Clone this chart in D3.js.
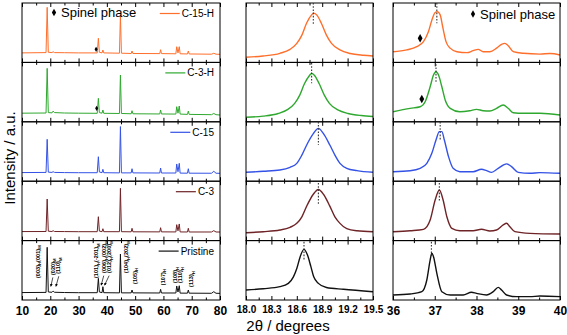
<!DOCTYPE html>
<html>
<head>
<meta charset="utf-8">
<script src="https://cdn.jsdelivr.net/npm/d3@7"></script>
<style>
  body { margin: 0; background: #fff; }
  svg { display: block; font-family: "Liberation Sans", Arial, sans-serif; }
</style>
</head>
<body>
<svg id="chart" width="567" height="335"></svg>
<script>
// sample names, top to bottom
const samples = ["C-15-H", "C-3-H", "C-15", "C-3", "Pristine"];

// tick labels of the three columns
const wideTicks = [10, 20, 30, 40, 50, 60, 70, 80];
const zoomATicks = [18.0, 18.3, 18.6, 18.9, 19.2, 19.5];
const zoomBTicks = [36, 37, 38, 39, 40];

// full patterns, 2theta 10-80 : [2theta, intensity]
const wideC15H = [[10,16],[18.5,16.5],[18.9,92.7],[19.3,17],[20.6,16.5],[21.0,18],[21.5,16.5],[25,16.3],[30,16],[36.6,16],[37.0,40.6],[37.35,17],[38.3,16],[38.6,20.9],[38.9,16],[44.45,15.5],[44.8,79.8],[45.15,15.5],[48.6,15],[48.9,19.2],[49.2,15],[58.7,14.8],[59.0,21.4],[59.3,14.8],[64.4,14.5],[64.7,26.4],[65.15,16],[65.6,26.4],[65.9,14.5],[68.5,14.2],[68.8,19.2],[69.1,14.2],[77,13.8],[77.8,15.3],[78.6,13.8],[80,13.6]];
const wideC3H = [[10,14.5],[18.5,14.8],[18.9,90],[19.3,15.5],[20.6,15],[21.0,18],[21.5,15.5],[25,14.8],[30,14.5],[36.6,14.3],[37.0,39.5],[37.35,15.5],[38.3,14.5],[38.6,19.9],[38.9,14.3],[44.45,14],[44.8,78.8],[45.15,14],[48.6,13.5],[48.9,18.7],[49.2,13.5],[58.7,13.2],[59.0,19.9],[59.3,13.2],[64.4,13],[64.7,25.4],[65.15,14.5],[65.6,26.6],[65.9,13],[68.5,12.5],[68.8,18],[69.1,12.5],[77,12],[77.8,14],[78.6,12],[80,11.4]];
const wideC15 = [[10,14.5],[18.5,14.8],[18.9,70.5],[19.3,15.2],[20.6,14.8],[21.0,16],[21.5,14.8],[25,14.5],[30,14.3],[36.6,14.3],[37.0,41.2],[37.35,15.5],[38.3,14.3],[38.6,20],[38.9,14.3],[44.45,14],[44.8,92],[45.15,14],[48.6,14],[48.9,21],[49.2,14],[58.7,13.8],[59.0,22.2],[59.3,13.8],[64.4,13.8],[64.7,29],[65.15,16],[65.6,30.1],[65.9,13.6],[68.5,13.5],[68.8,21],[69.1,13.5],[77,13.4],[77.8,16.7],[78.6,13.4],[80,13.3]];
const wideC3 = [[10,15.2],[18.5,15.3],[18.9,70],[19.3,15.8],[20.6,15.3],[21.0,16.7],[21.5,15.3],[25,15.2],[30,15],[36.6,15],[37.0,40.2],[37.35,16],[38.3,15],[38.6,20],[38.9,15],[44.45,15],[44.8,88],[45.15,15],[48.6,14.8],[48.9,20.7],[49.2,14.8],[58.7,14.7],[59.0,21.7],[59.3,14.7],[64.4,14.6],[64.7,26.8],[65.15,16.5],[65.6,28],[65.9,14.6],[68.5,14.5],[68.8,20.7],[69.1,14.5],[77,14.5],[77.8,16.7],[78.6,14.5],[80,14.4]];
const widePristine = [[10,12.5],[18.5,12.8],[18.9,88.7],[19.3,13.5],[20.6,13],[21.0,15],[21.5,13],[25,12.6],[30,12.3],[36.6,12.3],[37.0,36.5],[37.35,13.5],[38.3,12.3],[38.6,22.4],[38.9,12.3],[44.45,12],[44.8,77.4],[45.15,12],[48.6,12],[48.9,16.8],[49.2,12],[58.7,11.8],[59.0,18],[59.3,11.8],[64.4,11.8],[64.7,23.6],[65.15,13.5],[65.6,24],[65.9,11.6],[68.5,11.5],[68.8,16.8],[69.1,11.5],[77,11.3],[77.8,14],[78.6,11.3],[80,11.2]];

// (003) region, 2theta 18.0-19.5
const zoomAC15H = [[18.0,8.6],[18.2,10.8],[18.4,15.3],[18.52,22],[18.6,32],[18.66,46],[18.715,66],[18.775,80],[18.8,83],[18.835,80],[18.89,66],[18.95,46],[19.01,32],[19.11,21],[19.23,15],[19.385,12],[19.5,10.8]];
const zoomAC3H = [[18.0,7.6],[18.2,9.5],[18.38,14],[18.495,21],[18.575,31],[18.635,45],[18.69,64],[18.75,78],[18.775,81.6],[18.81,78],[18.865,64],[18.925,45],[18.985,31],[19.085,20],[19.205,14],[19.36,10.5],[19.5,9]];
const zoomAC15 = [[18.0,15],[18.205,16.7],[18.4,18.9],[18.52,23.4],[18.6,30],[18.66,44],[18.717,61],[18.795,80],[18.855,89],[18.915,80],[18.99,61],[19.05,44],[19.11,30],[19.19,21.7],[19.31,17.7],[19.5,15]];
const zoomAC3 = [[18.0,13.3],[18.205,15],[18.4,17.8],[18.52,22.4],[18.6,29],[18.66,40],[18.717,58],[18.795,78],[18.855,86],[18.915,78],[18.99,58],[19.05,40],[19.11,29],[19.19,20],[19.31,16.5],[19.5,15]];
const zoomAPristine = [[18.0,16.8],[18.205,19],[18.4,22.4],[18.5,28],[18.56,39],[18.6,53],[18.64,73],[18.685,85.3],[18.725,76],[18.765,57],[18.8,39],[18.855,28],[18.95,21],[19.15,18],[19.5,14]];

// (101)/(006)/(012) region, 2theta 36-40
const zoomBC15H = [[36.0,18],[36.33,21],[36.57,26.5],[36.73,35],[36.85,52],[36.93,71],[37.01,84],[37.06,85.4],[37.13,80],[37.19,60],[37.27,35],[37.37,24],[37.53,18],[37.77,16.4],[37.92,19.7],[38.04,22],[38.16,18],[38.32,18],[38.48,24],[38.6,30.4],[38.68,32],[38.76,28],[38.88,18],[39.12,15.3],[39.52,14],[39.76,15],[40.0,12.5]];
const zoomBC3H = [[36.0,17],[36.41,22.7],[36.65,25.4],[36.77,33.8],[36.89,59],[36.97,78.8],[37.03,84.3],[37.09,78.8],[37.17,59],[37.25,36.7],[37.37,22.7],[37.6,17],[37.84,18.7],[38.0,21],[38.16,18.7],[38.32,18.2],[38.48,22.7],[38.64,28.3],[38.76,22.7],[38.88,15.3],[39.12,14.3],[39.52,14.3],[40.0,11.4]];
const zoomBC15 = [[36.0,16],[36.41,17.7],[36.65,21.7],[36.81,30.1],[36.93,47],[37.03,69.4],[37.11,83.4],[37.17,83.4],[37.23,69.4],[37.33,41.3],[37.44,21.7],[37.6,16],[37.92,16],[38.12,20],[38.24,17.7],[38.36,14.9],[38.52,21.7],[38.72,29.2],[38.84,24.5],[39.0,14.9],[39.28,13.3],[39.52,14.5],[40.0,13.3]];
const zoomBC3 = [[36.0,15],[36.41,16.7],[36.73,19],[36.89,34.7],[37.01,68.4],[37.11,85.2],[37.2,68.4],[37.29,40.2],[37.41,20.7],[37.6,16.7],[37.92,16.7],[38.12,19],[38.32,16.2],[38.48,17.8],[38.64,26.3],[38.72,29.1],[38.8,23.4],[38.92,15],[39.28,12.2],[40.0,11.1]];
const zoomBPristine = [[36.0,8.4],[36.41,10.1],[36.69,14],[36.81,33.7],[36.89,67.3],[36.93,78.6],[36.97,72.9],[37.05,44.9],[37.17,14],[37.37,8.4],[37.68,8.4],[37.88,13],[38.0,11.2],[38.24,8.4],[38.4,14],[38.52,21.3],[38.6,16.8],[38.72,8.4],[38.96,5.6],[39.28,5.6],[39.52,6.7],[40.0,5.6]];

// peak centres marked with dotted lines
const zoomAPeaks = [18.795, 18.775, 18.855, 18.855, 18.685];
const zoomBPeaks = [37.05, 37.03, 37.13, 37.11, 36.92];
const dashTopA = [100, 99, 100, 97, 98], dashLowA = [64, 65, 61, 60, 67];
const dashTopB = [100, 97, 100, 97, 98], dashLowB = [66, 67, 69, 65, 74];

// spinel markers: [row, 2theta, intensity]
const spinelWide = [[0, 36.2, 22], [1, 36.4, 22.7]];
const spinelZoomB = [[0, 36.65, 40.6], [1, 36.69, 38.4]];

// reflection labels on the pristine pattern
const hklLabels = [
  {x: 15.5, y: 37, parts: ["(003)", "H", "(001)", "M"]},
  {x: 20.8, y: 42, parts: ["(020)", "M"]},
  {x: 22.9, y: 44, parts: ["(110)", "M"]},
  {x: 36.3, y: 37, parts: ["(101)", "H", "(-201)", "M"]},
  {x: 39.0, y: 45.5, parts: ["(006)", "H", "(002)", "M"]},
  {x: 40.9, y: 45.5, parts: ["(012)", "H", "(200)", "M"]},
  {x: 46.8, y: 45.5, parts: ["(104)", "H", "(202)", "M"]},
  {x: 49.9, y: 27, parts: ["(105)", "H"]},
  {x: 59.8, y: 25, parts: ["(107)", "H"]},
  {x: 64.1, y: 28.6, parts: ["(108)", "H"]},
  {x: 66.0, y: 28.6, parts: ["(110)", "H"]},
  {x: 69.9, y: 22, parts: ["(113)", "H"]}
];
const hklArrows = [[20.9, 38, 20.2, 23], [23.0, 40, 22.0, 23], [38.9, 41, 38.0, 25], [40.8, 41, 39.2, 25]];

const colors = ["#ff6f2c", "#2fa82f", "#3452e6", "#6e2326", "#111111"];

const svg = d3.select("#chart");
const defs = svg.append("defs");
defs.append("marker")
    .attr("id", "arrow")
    .attr("viewBox", "0 0 6 6")
    .attr("refX", 5).attr("refY", 3)
    .attr("markerWidth", 4).attr("markerHeight", 4)
    .attr("orient", "auto")
  .append("path")
    .attr("d", "M0,0L6,3L0,6Z")
    .attr("fill", "#000");

const rows = d3.scaleBand().domain(samples).range([3, 300]);

const cols = [
  {x0: 22, x1: 220, domain: [10, 80], ticks: wideTicks, fmt: d3.format("d"), fs: 12,
   series: [wideC15H, wideC3H, wideC15, wideC3, widePristine], curve: d3.curveLinear, lw: 1},
  {x0: 246, x1: 373, domain: [18, 19.5], ticks: zoomATicks, fmt: d3.format(".1f"), fs: 10,
   series: [zoomAC15H, zoomAC3H, zoomAC15, zoomAC3, zoomAPristine], curve: d3.curveMonotoneX, lw: 1.4},
  {x0: 393, x1: 560, domain: [36, 40], ticks: zoomBTicks, fmt: d3.format("d"), fs: 12,
   series: [zoomBC15H, zoomBC3H, zoomBC15, zoomBC3, zoomBPristine], curve: d3.curveMonotoneX, lw: 1.4}
];

function yScaleFor(name) {
  const top = rows(name);
  return d3.scaleLinear().domain([0, 100]).range([top + rows.bandwidth(), top]);
}

function diamond(g, px, py, size) {
  g.append("path")
    .attr("transform", `translate(${px},${py})`)
    .attr("d", d3.symbol(d3.symbolDiamond, size)())
    .attr("fill", "#000");
}

cols.forEach((c, ci) => {
  const x = d3.scaleLinear().domain(c.domain).range([c.x0, c.x1]);
  c.x = x;
  const minor = d3.pairs(c.ticks).map(p => (p[0] + p[1]) / 2);

  samples.forEach((name, i) => {
    const y = yScaleFor(name);
    const top = rows(name), h = rows.bandwidth();
    const g = svg.append("g");

    const clipId = `clip-${ci}-${i}`;
    defs.append("clipPath").attr("id", clipId)
      .append("rect").attr("x", c.x0).attr("y", top).attr("width", c.x1 - c.x0).attr("height", h);

    g.append("path")
      .datum(c.series[i])
      .attr("clip-path", `url(#${clipId})`)
      .attr("fill", "none")
      .attr("stroke", colors[i])
      .attr("stroke-width", c.lw)
      .attr("stroke-linejoin", "round")
      .attr("d", d3.line().x(d => x(d[0])).y(d => y(d[1])).curve(c.curve));

    // inward ticks, top and bottom
    const last = i === samples.length - 1;
    const bottom = g.append("g")
      .attr("transform", `translate(0,${top + h})`)
      .call(d3.axisBottom(x).tickValues(c.ticks).tickSize(-4).tickPadding(6)
        .tickFormat(last ? c.fmt : ""));
    bottom.append("g").call(d3.axisBottom(x).tickValues(minor).tickSize(-2.5).tickFormat(""));
    const topAx = g.append("g")
      .attr("transform", `translate(0,${top})`)
      .call(d3.axisTop(x).tickValues(c.ticks).tickSize(-4).tickFormat(""));
    topAx.append("g").call(d3.axisTop(x).tickValues(minor).tickSize(-2.5).tickFormat(""));
    g.selectAll(".domain").remove();
    g.selectAll(".tick line").attr("stroke", "#000");
    bottom.selectAll("text")
      .attr("font-family", "Liberation Sans, Arial, sans-serif")
      .attr("font-weight", "bold")
      .attr("font-size", c.fs)
      .attr("fill", "#000");

    g.append("rect")
      .attr("x", c.x0).attr("y", top)
      .attr("width", c.x1 - c.x0).attr("height", h)
      .attr("fill", "none").attr("stroke", "#000").attr("stroke-width", 1);
  });
});

// dotted peak-centre lines
[[cols[1], zoomAPeaks, dashTopA, dashLowA], [cols[2], zoomBPeaks, dashTopB, dashLowB]].forEach(([c, peaks, hi, lo]) => {
  samples.forEach((name, i) => {
    const y = yScaleFor(name);
    svg.append("line")
      .attr("x1", c.x(peaks[i])).attr("x2", c.x(peaks[i]))
      .attr("y1", y(hi[i])).attr("y2", y(lo[i]))
      .attr("stroke", "#333").attr("stroke-width", 1.1)
      .attr("stroke-dasharray", "1.6,1.6");
  });
});

// legends
samples.forEach((name, i) => {
  const top = rows(name);
  const t = svg.append("text")
    .attr("x", 214).attr("y", top + 10.5)
    .attr("dy", "0.35em")
    .attr("text-anchor", "end")
    .attr("font-size", 10)
    .text(name);
  const w = t.node().getComputedTextLength();
  svg.append("line")
    .attr("x1", 214 - w - 22).attr("x2", 214 - w - 2)
    .attr("y1", top + 10.5).attr("y2", top + 10.5)
    .attr("stroke", colors[i]).attr("stroke-width", 1.2);
});

// spinel phase keys and markers
diamond(svg, 54, 12.5, 16);
svg.append("text").attr("x", 61).attr("y", 12.5).attr("dy", "0.35em")
  .attr("font-size", 13).text("Spinel phase");
diamond(svg, 473, 14, 16);
svg.append("text").attr("x", 480).attr("y", 14).attr("dy", "0.35em")
  .attr("font-size", 13).text("Spinel phase");

spinelWide.forEach(([r, tt, v]) => diamond(svg, cols[0].x(tt), yScaleFor(samples[r])(v), 8));
spinelZoomB.forEach(([r, tt, v]) => diamond(svg, cols[2].x(tt), yScaleFor(samples[r])(v), 20));

// reflection labels
const yP = yScaleFor("Pristine");
hklLabels.forEach(l => {
  const t = svg.append("text")
    .attr("transform", `translate(${cols[0].x(l.x)},${yP(l.y)}) rotate(-90)`)
    .attr("dy", "0.35em")
    .attr("font-size", 5.6)
    .attr("font-weight", "bold");
  l.parts.forEach((p, k) => {
    const sub = k % 2 === 1;
    t.append("tspan")
      .attr("dy", k === 0 ? null : (sub ? 1.6 : -1.6))
      .attr("font-size", sub ? 4.2 : 5.6)
      .text(p);
  });
});
hklArrows.forEach(a => {
  svg.append("line")
    .attr("x1", cols[0].x(a[0])).attr("y1", yP(a[1]))
    .attr("x2", cols[0].x(a[2])).attr("y2", yP(a[3]))
    .attr("stroke", "#000").attr("stroke-width", 0.7)
    .attr("marker-end", "url(#arrow)");
});

// axis titles
svg.append("text")
  .attr("transform", "translate(10,158) rotate(-90)")
  .attr("dy", "0.35em")
  .attr("text-anchor", "middle")
  .attr("font-size", 15)
  .text("Intensity / a.u.");
svg.append("text")
  .attr("x", 288).attr("y", 331)
  .attr("text-anchor", "middle")
  .attr("font-size", 15)
  .text("2θ / degrees");
</script>
</body>
</html>
